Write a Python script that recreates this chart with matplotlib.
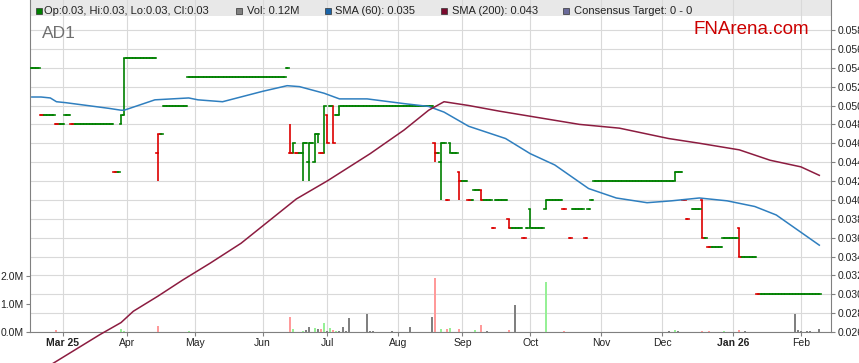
import pandas as pd
import numpy as np
import matplotlib
matplotlib.use("Agg")
import matplotlib.pyplot as plt
from matplotlib.patches import Rectangle

plt.rcParams["font.family"] = ["Liberation Sans", "DejaVu Sans"]

# --- sessions where open = high = low = close (first day, last day, price) ---
flat_first = ["2025-02-17", "2025-02-20", "2025-02-27", "2025-03-04", "2025-03-06", "2025-03-26",
              "2025-04-01", "2025-04-16", "2025-04-17", "2025-04-29", "2025-06-12", "2025-06-17",
              "2025-06-20", "2025-06-24", "2025-06-27", "2025-07-02", "2025-07-04", "2025-07-08",
              "2025-08-20", "2025-08-22", "2025-08-25", "2025-08-27", "2025-09-01", "2025-09-03",
              "2025-09-05", "2025-09-10", "2025-09-15", "2025-09-16", "2025-09-23", "2025-09-29",
              "2025-09-30", "2025-10-02", "2025-10-09", "2025-10-16", "2025-10-20", "2025-10-21",
              "2025-10-27", "2025-10-28", "2025-10-29", "2025-10-30", "2025-12-08", "2025-12-10",
              "2025-12-11", "2025-12-15", "2025-12-19", "2025-12-22", "2025-12-29", "2026-01-06",
              "2026-01-13"]
flat_last = ["2025-02-19", "2025-02-26", "2025-03-03", "2025-03-05", "2025-03-25", "2025-03-27",
             "2025-04-14", "2025-04-16", "2025-04-28", "2025-06-11", "2025-06-12", "2025-06-18",
             "2025-06-20", "2025-06-24", "2025-06-27", "2025-07-02", "2025-07-04", "2025-08-18",
             "2025-08-20", "2025-08-22", "2025-08-25", "2025-08-28", "2025-09-02", "2025-09-04",
             "2025-09-08", "2025-09-12", "2025-09-15", "2025-09-19", "2025-09-26", "2025-09-29",
             "2025-09-30", "2025-10-07", "2025-10-15", "2025-10-16", "2025-10-20", "2025-10-24",
             "2025-10-27", "2025-10-28", "2025-10-29", "2025-12-04", "2025-12-09", "2025-12-10",
             "2025-12-11", "2025-12-17", "2025-12-19", "2025-12-26", "2026-01-02", "2026-01-12",
             "2026-02-10"]
flat_price = [0.054, 0.049, 0.048, 0.049, 0.048, 0.043,
              0.055, 0.047, 0.050, 0.053, 0.054, 0.045,
              0.046, 0.046, 0.045, 0.050, 0.049, 0.050,
              0.045, 0.046, 0.040, 0.045, 0.042, 0.040,
              0.041, 0.040, 0.037, 0.040, 0.037, 0.036,
              0.037, 0.037, 0.040, 0.039, 0.036, 0.039,
              0.036, 0.039, 0.040, 0.042, 0.043, 0.040,
              0.038, 0.039, 0.036, 0.035, 0.036, 0.034,
              0.030]

# --- sessions with a trading range ---
bar_date = ["2025-03-28", "2025-03-31", "2025-04-15", "2025-06-13", "2025-06-16", "2025-06-19",
            "2025-06-23", "2025-06-25", "2025-06-26", "2025-06-30", "2025-07-01", "2025-07-03",
            "2025-07-07", "2025-08-19", "2025-08-21", "2025-08-26", "2025-08-29", "2025-09-09",
            "2025-09-22", "2025-10-01", "2025-10-08", "2025-12-05", "2025-12-18", "2026-01-05"]
bar_open = [0.048, 0.049, 0.045, 0.045, 0.045, 0.045, 0.044, 0.044, 0.047, 0.045, 0.049, 0.050,
            0.049, 0.046, 0.044, 0.046, 0.043, 0.041, 0.038, 0.039, 0.039, 0.042, 0.040, 0.037]
bar_high = [0.049, 0.055, 0.047, 0.048, 0.046, 0.046, 0.046, 0.047, 0.047, 0.050, 0.049, 0.050,
            0.050, 0.046, 0.046, 0.046, 0.043, 0.041, 0.038, 0.039, 0.040, 0.043, 0.040, 0.037]
bar_low = [0.048, 0.049, 0.042, 0.045, 0.045, 0.042, 0.042, 0.044, 0.046, 0.045, 0.046, 0.046,
           0.049, 0.044, 0.040, 0.045, 0.040, 0.040, 0.037, 0.037, 0.039, 0.042, 0.036, 0.034]
bar_close = [0.049, 0.055, 0.047, 0.045, 0.046, 0.046, 0.046, 0.047, 0.047, 0.050, 0.046, 0.046,
             0.050, 0.045, 0.046, 0.045, 0.042, 0.040, 0.037, 0.037, 0.040, 0.043, 0.036, 0.034]

# --- volume (millions) ---
vol_date = ["2025-02-27", "2025-03-28", "2025-03-31", "2025-04-15", "2025-04-29", "2025-06-13",
            "2025-06-16", "2025-06-19", "2025-06-20", "2025-06-23", "2025-06-25", "2025-06-26",
            "2025-06-27", "2025-06-30", "2025-07-01", "2025-07-02", "2025-07-03", "2025-07-04",
            "2025-07-07", "2025-07-08", "2025-07-09", "2025-07-10", "2025-07-18", "2025-07-21",
            "2025-07-22", "2025-07-30", "2025-08-07", "2025-08-18", "2025-08-19", "2025-08-21",
            "2025-08-25", "2025-08-26", "2025-08-29", "2025-09-05", "2025-09-09", "2025-09-11",
            "2025-09-22", "2025-09-24", "2025-10-08", "2025-10-16", "2025-12-03", "2025-12-05",
            "2025-12-08", "2025-12-18", "2025-12-22", "2025-12-29", "2026-01-05", "2026-01-07",
            "2026-01-29", "2026-01-30", "2026-02-02", "2026-02-04", "2026-02-05", "2026-02-10"]
vol_million = [0.08, 0.12, 0.05, 0.23, 0.04, 0.52,
               0.12, 0.05, 0.06, 0.19, 0.15, 0.12,
               0.12, 0.31, 0.03, 0.15, 0.08, 0.04,
               0.04, 0.18, 0.04, 0.51, 0.65, 0.04,
               0.04, 0.04, 0.18, 0.54, 1.93, 0.11,
               0.11, 0.14, 0.11, 0.07, 0.25, 0.04,
               0.07, 0.96, 1.79, 0.04, 0.04, 0.07,
               0.04, 0.04, 0.04, 0.04, 0.07, 0.04,
               0.64, 0.07, 0.04, 0.04, 0.04, 0.11]
vol_kind = ["down", "up", "up", "down", "up", "down",
            "up", "up", "flat", "flat", "up", "flat",
            "down", "up", "flat", "up", "down", "up",
            "flat", "flat", "flat", "flat", "flat", "flat",
            "flat", "flat", "flat", "flat", "down", "up",
            "down", "up", "down", "up", "down", "flat",
            "down", "flat", "up", "down", "flat", "up",
            "flat", "down", "down", "up", "down", "flat",
            "flat", "flat", "flat", "flat", "flat", "flat"]

# --- moving averages ---
sma60_date = ["2025-02-17", "2025-02-20", "2025-02-25", "2025-02-27", "2025-03-04", "2025-03-24",
              "2025-03-28", "2025-03-31", "2025-04-14", "2025-04-29", "2025-05-02", "2025-05-14",
              "2025-06-02", "2025-06-12", "2025-06-18", "2025-06-30", "2025-07-07", "2025-07-18",
              "2025-08-05", "2025-08-15", "2025-08-22", "2025-09-03", "2025-09-19", "2025-10-01",
              "2025-10-13", "2025-10-28", "2025-11-10", "2025-11-24", "2025-12-04", "2025-12-17",
              "2025-12-30", "2026-01-12", "2026-01-21", "2026-01-30", "2026-02-10"]
sma60_value = [0.0509, 0.0509, 0.0508, 0.0504, 0.0503, 0.0497,
               0.0495, 0.0495, 0.0506, 0.0508, 0.0506, 0.0504,
               0.0515, 0.0521, 0.0520, 0.0513, 0.0507, 0.0507,
               0.0502, 0.0499, 0.0493, 0.0478, 0.0465, 0.0449,
               0.0437, 0.0412, 0.0402, 0.0397, 0.0399, 0.0402,
               0.0399, 0.0393, 0.0384, 0.0368, 0.0352]
sma200_date = ["2025-02-20", "2025-02-27", "2025-03-19", "2025-03-28", "2025-04-03", "2025-04-15",
               "2025-04-25", "2025-05-08", "2025-05-22", "2025-06-17", "2025-07-01", "2025-07-21",
               "2025-08-05", "2025-08-15", "2025-08-22", "2025-09-03", "2025-09-17", "2025-10-06",
               "2025-10-23", "2025-11-11", "2025-12-03", "2025-12-17", "2026-01-05", "2026-01-19",
               "2026-02-02", "2026-02-10"]
sma200_value = [0.0219, 0.0229, 0.0257, 0.0270, 0.0282, 0.0298,
                0.0315, 0.0333, 0.0354, 0.0401, 0.0420, 0.0449,
                0.0474, 0.0495, 0.0504, 0.0500, 0.0494, 0.0487,
                0.0480, 0.0476, 0.0465, 0.0460, 0.0453, 0.0442,
                0.0435, 0.0426]

month_starts = ["2025-03-01", "2025-04-01", "2025-05-01", "2025-06-01", "2025-07-01", "2025-08-01",
                "2025-09-01", "2025-10-01", "2025-11-01", "2025-12-01", "2026-01-01", "2026-02-01"]
month_labels = ["Mar 25", "Apr", "May", "Jun", "Jul", "Aug", "Sep", "Oct", "Nov", "Dec", "Jan 26", "Feb"]

GREEN, RED = "#008000", "#dd0000"
VOL_COLORS = {"up": "#96f096", "down": "#ff9a9a", "flat": "#808080"}

# weekday axis: one slot per weekday
days = pd.bdate_range("2025-02-17", "2026-02-10")


def slot(d):
    return days.get_loc(pd.Timestamp(d))


# collect every session
ohlc = {}
for first, last, p in zip(flat_first, flat_last, flat_price):
    for d in pd.bdate_range(first, last):
        ohlc[d] = (p, p, p, p)
for d, o, h, l, c in zip(bar_date, bar_open, bar_high, bar_low, bar_close):
    ohlc[pd.Timestamp(d)] = (o, h, l, c)

sessions = sorted(ohlc)
xs = np.array([slot(d) for d in sessions])
o = np.array([ohlc[d][0] for d in sessions])
h = np.array([ohlc[d][1] for d in sessions])
l = np.array([ohlc[d][2] for d in sessions])
c = np.array([ohlc[d][3] for d in sessions])
prev = np.r_[c[0], c[:-1]]
colors = np.where(c < prev - 1e-9, RED, GREEN)

fig = plt.figure(figsize=(8.59, 3.63), dpi=100)
ax = fig.add_axes([30 / 859, 31 / 363, 801 / 859, 332 / 363])
ax_v = ax.twinx()

# price panel
ax.add_patch(Rectangle((0, 1 - 16 / 332), 1, 16 / 332, transform=ax.transAxes,
                       facecolor="#e8e8e8", edgecolor="none", zorder=0.3))
rng = h > l
ax.vlines(xs[rng], l[rng], h[rng], colors=colors[rng], lw=1.2, zorder=3)
ax.hlines(o, xs - 0.5, xs, colors=colors, lw=1.2, zorder=3, capstyle="projecting")
ax.hlines(c, xs, xs + 0.5, colors=colors, lw=1.2, zorder=3, capstyle="projecting")

ax.plot([slot(d) for d in sma60_date], sma60_value, color="#2f7fbf", lw=1.1, zorder=4)
ax.plot([slot(d) for d in sma200_date], sma200_value, color="#8c1c40", lw=1.1, zorder=4,
        clip_on=False)

ax.set_xlim(-0.6, 259.8)
ax.set_ylim(0.026, 0.026 + 332 * 0.0001 / 0.94375)
price_ticks = np.arange(0.026, 0.0585, 0.002)
ax.set_yticks(price_ticks)
ax.set_yticklabels([f"{v:.3f}" for v in price_ticks])
ax.yaxis.tick_right()

month_pos = [days.searchsorted(pd.Timestamp(m)) for m in month_starts]
ax.set_xticks(month_pos)
ax.set_xticklabels(month_labels)
for lab in ax.get_xticklabels():
    if " " in lab.get_text():
        lab.set_fontweight("bold")

ax.set_axisbelow(True)
ax.grid(True, color="#d9d9d9", lw=0.8)
ax.tick_params(labelsize=7.5, colors="#808080", labelcolor="#222222", length=3, pad=1.5)
for side in ["left", "right", "bottom"]:
    ax.spines[side].set_color("#808080")
ax.spines["top"].set_visible(False)

# volume panel
ax_v.bar([slot(d) for d in vol_date], vol_million, width=0.65,
         color=[VOL_COLORS[k] for k in vol_kind], zorder=2)
ax_v.set_ylim(0, 332 / 28)
ax_v.set_yticks([0, 1, 2])
ax_v.set_yticklabels(["0.0M", "1.0M", "2.0M"])
ax_v.yaxis.tick_left()
ax_v.tick_params(labelsize=7.5, colors="#808080", labelcolor="#222222", length=3, pad=1.5)
for s in ax_v.spines.values():
    s.set_visible(False)

# titles and legend band
fig.text(42 / 859, 1 - 33 / 363, "AD1", fontsize=12.5, color="#707070", va="center")
fig.text(809 / 859, 1 - 29 / 363, "FNArena.com", fontsize=13.5, color="#cc0000",
         va="center", ha="right")

legend_items = [(36, 44, GREEN, "Op:0.03, Hi:0.03, Lo:0.03, Cl:0.03"),
                (236, 247, "#808080", "Vol: 0.12M"),
                (325, 335, "#1a64a8", "SMA (60): 0.035"),
                (441, 452, "#7a0a2e", "SMA (200): 0.043"),
                (563, 574, "#6a6a9a", "Consensus Target: 0 - 0")]
for sx, tx, col, txt in legend_items:
    fig.add_artist(Rectangle((sx / 859, 1 - 14 / 363), 6 / 859, 6 / 363,
                             transform=fig.transFigure, facecolor=col,
                             edgecolor="#333333", lw=0.5))
    fig.text(tx / 859, 1 - 11 / 363, txt, fontsize=8, color="#222222", va="center")

fig.savefig("out.png", dpi=100)
